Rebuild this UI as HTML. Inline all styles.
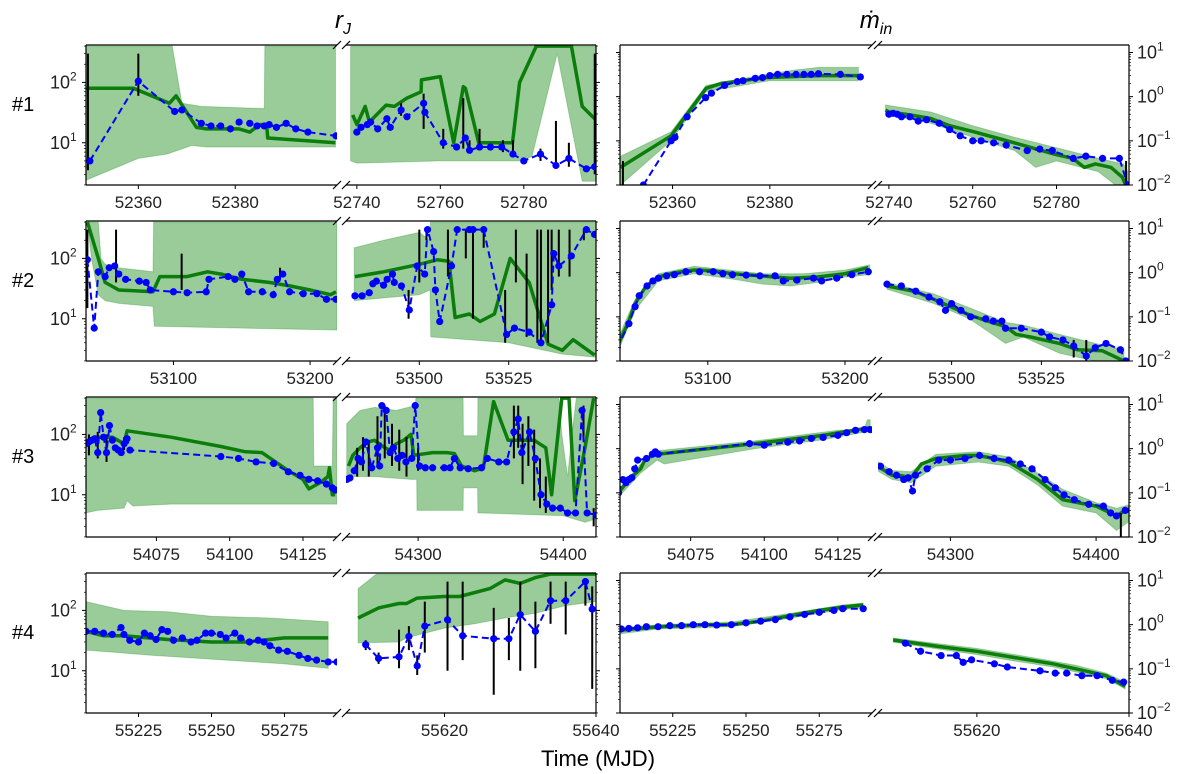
<!DOCTYPE html>
<html><head><meta charset="utf-8"><style>
html,body{margin:0;padding:0;background:#fff}
svg{display:block;font-family:"Liberation Sans","DejaVu Sans",sans-serif}
</style></head><body>
<svg id="chart" width="1200" height="774" viewBox="0 0 1200 774" xmlns="http://www.w3.org/2000/svg">
<text x="343" y="28" font-size="24" font-style="italic" text-anchor="middle">r<tspan font-size="16" dy="6">J</tspan></text>
<text x="876" y="28" font-size="24" font-style="italic" text-anchor="middle">ṁ<tspan font-size="16" dy="6">in</tspan></text>
<text x="598" y="766" font-size="22" text-anchor="middle">Time (MJD)</text>
<g id="plots"></g>
</svg>
<script>
// ---- row 1 r_J ----
const rj1L_green=[[52349.2,80],[52359,80],[52366.4,45],[52367.8,60],[52372,18],[52374,17],[52380.8,17],[52383,15],[52385,20],[52386.5,20],[52386.7,12],[52390,11.5],[52400.7,10]];
const rj1L_hi=[[52349.2,400],[52367,400],[52369,45],[52373,40],[52386,37],[52386.1,400],[52400.7,400]];
const rj1L_lo=[[52349.2,2.4],[52360,5.5],[52366,6.5],[52371,9],[52374,8.5],[52400.7,8.5]];
const rj1L_blue=[[52350,5],[52360,105],[52367.5,33],[52369,35],[52373,21],[52375,19],[52377,19],[52379,17],[52380.8,22],[52383,21],[52384.5,19],[52386,19],[52387,20],[52388.5,18],[52390.5,21],[52392.5,17],[52395,15],[52400.8,13]];
const rj1L_err=[[52349.6,3.5,300],[52360,60,300]];
const rj1R_green=[[52739,29],[52740,20],[52742,40],[52743,22],[52747,42],[52749,40],[52752,55],[52755.4,70],[52755.5,110],[52760,125],[52763.2,10],[52765.5,85],[52766,80],[52769.2,10],[52777.3,10],[52779,100],[52783,400],[52791.4,400],[52794,40],[52797,25]];
const rj1R_hi=[[52738.5,400],[52797.3,400]];
const rj1R_lo=[[52738.5,5],[52740,4.6],[52760,5],[52780,5],[52782,6],[52788,300],[52794,2.3],[52797.3,2.3]];
const rj1R_blue=[[52740,15],[52741,18],[52742.5,20],[52743.3,22],[52745,17],[52747.2,25],[52748,18],[52750.6,35],[52752,27],[52756,45],[52756.3,32],[52760.7,10],[52763.9,8.5],[52766,12],[52767,7.5],[52769.4,8.5],[52772,8.5],[52774.7,8.5],[52777.4,6.5],[52780,5],[52784,6.5],[52787.7,4.2],[52790.8,5.5],[52795,3.7],[52797,4]];
const rj1R_err=[[52756,17,65],[52750.6,28,45],[52760.7,8,17],[52765.5,8,55],[52767,7,11],[52769.4,8,17],[52775,7,11],[52777.4,6,11],[52784,5,8],[52787.7,4,23],[52790.8,4,10],[52797,3,300]];
// ---- row 2 r_J ----
const rj2L_green=[[53037,400],[53045,100],[53050,40],[53060,30],[53085,28],[53090,50],[53110,50],[53125,60],[53135,55],[53150,45],[53170,40],[53185,35],[53200,30],[53215,25],[53219,28]];
const rj2L_hi=[[53037,400],[53045,400],[53047,100],[53050,80],[53060,70],[53085,60],[53085.5,400],[53219.7,400]];
const rj2L_lo=[[53037,400],[53040,100],[53045,25],[53050,20],[53060,18],[53085,16],[53086,7.5],[53219.7,6.5]];
const rj2L_blue=[[53037,95],[53042,7],[53045,60],[53050,50],[53053,70],[53057,75],[53060,55],[53065,45],[53075,42],[53080,40],[53083,30],[53100,28],[53110,27],[53124,28],[53126,45],[53140,50],[53145,45],[53150,55],[53155,28],[53165,28],[53173,25],[53176,45],[53180,55],[53185,28],[53195,26],[53205,26],[53212,21],[53219,21]];
const rj2L_err=[[53037,15,300],[53058,40,300],[53106,30,120],[53178,45,70]];
const rj2R_green=[[53482,50],[53490,60],[53500,80],[53505,95],[53508.3,90],[53510,10.5],[53514,12],[53517,9],[53521,12],[53525.4,100],[53530.7,40],[53536,3.8],[53540,3],[53543,4.5],[53549,2.5]];
const rj2R_hi=[[53481.8,150],[53490,200],[53500,270],[53503,200],[53503.1,400],[53549.4,400]];
const rj2R_lo=[[53481.8,20],[53500,25],[53503,30],[53503.2,5],[53525,4],[53540,2.6],[53549.4,2.3]];
const rj2R_blue=[[53482,24],[53484,24],[53486,27],[53487,38],[53488,42],[53490,36],[53491,45],[53492.5,55],[53493,40],[53495,35],[53497.2,14],[53499.4,75],[53501.5,55],[53502.3,300],[53504,130],[53504.5,30],[53505.7,9],[53509,75],[53510.6,300],[53514,300],[53515,300],[53518,300],[53524.4,5.5],[53526.6,7],[53530.7,6],[53534,4],[53537,17],[53537.6,120],[53539,75],[53542.5,110],[53546.7,300],[53549,250]];
const rj2R_err=[[53497,10,30],[53500,40,300],[53502,200,300],[53508,50,300],[53513,100,300],[53515,10,300],[53518,150,300],[53524,4,30],[53527,40,300],[53530,5,120],[53533,4,300],[53534,4,300],[53536,4,300],[53537,30,300],[53539,50,300],[53542,50,300],[53546,200,300]];
// ---- row 3 r_J ----
const rj3L_green=[[54051,75],[54055,90],[54060,90],[54064,70],[54065,115],[54080,90],[54097,63],[54105,52],[54111,50],[54120,25],[54125,18],[54127,12.5],[54131,16],[54133.5,20],[54134,28],[54135,10],[54136,10]];
const rj3L_hi=[[54051,400],[54128.5,400],[54128.7,30],[54135,30],[54135.3,400],[54136.6,400]];
const rj3L_lo=[[54051,5],[54055,5.5],[54064,6],[54065,8],[54067,6.5],[54080,7],[54136.6,7]];
const rj3L_blue=[[54051,70],[54052,75],[54053,80],[54054,85],[54055,50],[54056,230],[54057,90],[54058,50],[54059,140],[54060,80],[54061,60],[54062,55],[54063,50],[54064,70],[54065,85],[54066,55],[54097,43],[54103,40],[54109,35],[54115,33],[54120,24],[54124,21],[54127,18],[54130,17],[54133,15],[54135,13],[54136,12]];
const rj3L_err=[[54052,45,100],[54055,40,110],[54058,35,100],[54064,55,90]];
const rj3R_green=[[54252,30],[54255,45],[54260,60],[54265,75],[54270,80],[54275,65],[54280,55],[54285,70],[54290,80],[54295,100],[54297,45],[54310,50],[54320,50],[54325,48],[54330,30],[54339,25],[54345,28],[54352,350],[54362,80],[54380,80],[54388,60],[54392,10],[54399,400],[54404,400],[54408,8],[54415,60],[54421,400]];
const rj3R_hi=[[54250.8,150],[54260,250],[54270,280],[54285,250],[54298,300],[54298.5,400],[54331,400],[54331.2,95],[54341,95],[54341.2,400],[54397,400],[54399,100],[54403,20],[54406,100],[54409,400],[54422.6,400]];
const rj3R_lo=[[54250.8,20],[54270,20],[54295,18],[54299,18],[54299.2,5.5],[54331,5.5],[54331.2,13],[54341,13],[54341.2,5],[54400,4.5],[54415,3.5],[54422.6,4]];
const rj3R_blue=[[54251,18],[54253,19],[54256,25],[54258.6,40],[54261,35],[54264,75],[54268,28],[54272,60],[54273.5,30],[54275,300],[54278,250],[54280.7,50],[54283,60],[54286,40],[54289,45],[54291.6,35],[54295.6,40],[54298,300],[54301,30],[54305,28],[54310,28],[54318,28],[54322,28],[54325,40],[54329,28],[54334.5,27],[54343.7,28],[54347.7,40],[54355.6,35],[54361,35],[54366,110],[54369,180],[54371.5,50],[54376.8,110],[54380.8,40],[54384.7,10],[54388.7,7],[54392.7,6],[54398,6],[54403,5],[54408.5,5],[54413,250],[54416.5,5],[54423,4.6]];
const rj3R_err=[[54258,20,60],[54262,25,90],[54266,20,80],[54272,30,200],[54277,40,300],[54282,30,150],[54287,25,120],[54292,20,90],[54300,25,60],[54366,40,300],[54369,60,300],[54372,15,150],[54376,30,200],[54380,8,120],[54384,6,40],[54388,5,20],[54414,80,300],[54421,3,6]];
// ---- row 4 r_J ----
const rj4L_green=[[55207,45],[55213,38],[55220,38],[55235,33],[55250,30],[55262,30],[55275,35],[55285,35],[55290,35]];
const rj4L_hi=[[55207,140],[55220,100],[55235,95],[55250,80],[55270,75],[55290,65]];
const rj4L_lo=[[55207,22],[55230,18],[55255,15],[55275,13],[55290,11]];
const rj4L_blue=[[55207,45],[55210,45],[55213,42],[55216,40],[55219,52],[55220,40],[55222,32],[55225,30],[55227,42],[55229,38],[55231,33],[55233,48],[55235,45],[55237,32],[55240,35],[55243,30],[55245,32],[55248,42],[55250,42],[55253,40],[55255,35],[55258,42],[55260,35],[55263,30],[55266,32],[55268,30],[55270,26],[55273,22],[55276,21],[55280,18],[55283,16],[55286,15],[55290,14],[55293,14]];
const rj4L_err=[];
const rj4R_green=[[55608.6,75],[55611.3,110],[55614,130],[55615,130],[55616.4,160],[55620,170],[55622,170],[55626,230],[55628,320],[55630,280],[55632,350],[55634,400],[55640,400]];
const rj4R_hi=[[55608.6,230],[55611,400],[55640,400]];
const rj4R_lo=[[55608.6,29],[55614,30],[55615,35],[55620,51],[55624,60],[55628,75],[55632,90],[55636,120],[55640,140]];
const rj4R_blue=[[55609.6,27],[55611.3,16],[55614,17],[55615.3,37],[55616.4,12],[55617.4,55],[55620.4,70],[55622.4,38],[55626.5,34],[55628.5,34],[55630,85],[55632,45],[55634,145],[55636,145],[55638.6,300],[55639.5,105]];
const rj4R_err=[[55609.6,22,32],[55611.3,13,20],[55614,11,48],[55615.3,22,55],[55616.4,8.5,18],[55617.4,20,140],[55620.4,10,300],[55622.4,15,300],[55626.5,4,110],[55628.5,15,75],[55630,10,300],[55632,11,140],[55634,60,300],[55636,40,300],[55638.6,120,300],[55639.5,5,250]];
// ---- row 1 mdot ----
const mi1L_green=[[52349.3,0.025],[52359.7,0.13],[52366.9,1.55],[52370,2.0],[52379.3,2.7],[52390,3.0],[52398.2,3.0]];
const mi1L_hi=[[52349.3,0.045],[52359.7,0.16],[52366.9,1.8],[52380,3.3],[52385,4.0],[52390,4.6],[52398.2,4.6]];
const mi1L_lo=[[52349.3,0.01],[52359.7,0.1],[52366.9,1.3],[52380,2.3],[52390,2.3],[52398.2,2.3]];
const mi1L_blue=[[52354,0.01],[52359.7,0.1],[52360.5,0.12],[52363,0.35],[52366.8,0.95],[52368,1.2],[52370.7,1.8],[52373.3,2.2],[52374.5,2.3],[52377,2.6],[52378.5,2.7],[52380,3.0],[52381.6,3.2],[52383.5,3.2],[52385.4,3.2],[52387,3.2],[52388.5,3.2],[52390,3.3],[52394.5,3.2],[52398.6,2.8]];
const mi1L_err=[[52349.8,0.01,0.035]];
const mi1R_green=[[52739.2,0.5],[52740,0.45],[52744,0.4],[52750,0.32],[52754.5,0.22],[52760.3,0.16],[52766.6,0.11],[52773,0.075],[52779.4,0.05],[52783.9,0.04],[52786.6,0.025],[52789.3,0.03],[52793,0.025],[52795.7,0.015],[52797,0.008]];
const mi1R_hi=[[52739.2,0.65],[52750,0.45],[52760,0.22],[52770,0.12],[52780,0.07],[52790,0.04],[52796,0.03],[52797,0.02]];
const mi1R_lo=[[52739.2,0.4],[52750,0.25],[52760,0.12],[52770,0.06],[52775,0.025],[52780,0.035],[52790,0.02],[52797,0.006]];
const mi1R_blue=[[52740,0.4],[52741,0.42],[52742,0.4],[52743,0.35],[52745,0.35],[52747,0.28],[52749,0.3],[52752,0.25],[52754.5,0.18],[52757,0.13],[52760,0.1],[52762,0.1],[52765,0.09],[52768,0.08],[52773,0.06],[52776,0.065],[52779,0.06],[52784,0.04],[52787,0.045],[52791,0.04],[52795,0.04],[52797,0.01]];
const mi1R_err=[[52796.6,0.01,0.035]];
// ---- row 2 mdot ----
const mi2L_green=[[53034,0.022],[53042.5,0.08],[53047,0.2],[53055,0.5],[53064,0.8],[53076,1.0],[53090,1.15],[53104,1.1],[53118,0.95],[53138,0.85],[53160,0.75],[53180,0.8],[53200,0.95],[53217,1.3]];
const mi2L_hi=[[53034,0.03],[53047,0.25],[53064,0.95],[53090,1.4],[53110,1.2],[53140,0.95],[53170,0.95],[53200,1.15],[53218,1.5]];
const mi2L_lo=[[53034,0.015],[53047,0.14],[53064,0.65],[53090,0.95],[53120,0.7],[53140,0.55],[53160,0.5],[53180,0.6],[53200,0.8],[53218,0.9]];
const mi2L_blue=[[53034,0.02],[53042.5,0.07],[53047,0.17],[53050,0.3],[53055.7,0.5],[53060,0.65],[53064,0.75],[53070,0.85],[53075.6,0.9],[53084,1.05],[53094,1.05],[53104,1.05],[53111,0.95],[53118,0.9],[53128,0.88],[53138,0.85],[53149,0.85],[53155,0.65],[53165,0.68],[53177,0.75],[53183,0.65],[53194,0.75],[53205,0.9],[53217,1.05]];
const mi2L_err=[];
const mi2R_green=[[53482,0.5],[53490,0.37],[53495,0.25],[53505,0.11],[53510,0.08],[53515,0.06],[53518,0.04],[53522,0.035],[53530,0.025],[53535,0.018],[53542,0.017],[53548,0.01]];
const mi2R_hi=[[53482,0.6],[53495,0.33],[53505,0.16],[53515,0.075],[53520,0.065],[53530,0.04],[53540,0.025],[53548,0.018]];
const mi2R_lo=[[53482,0.42],[53495,0.2],[53505,0.09],[53515,0.025],[53520,0.035],[53530,0.015],[53540,0.01],[53548,0.007]];
const mi2R_blue=[[53482,0.55],[53486,0.5],[53490,0.38],[53493.7,0.28],[53496.7,0.22],[53498.3,0.14],[53500,0.2],[53502.6,0.14],[53505.3,0.1],[53509.5,0.09],[53511.6,0.08],[53514,0.08],[53515,0.055],[53519.4,0.055],[53525,0.045],[53527.3,0.035],[53531,0.03],[53534,0.022],[53537.5,0.013],[53540,0.02],[53543,0.025],[53547,0.018],[53548.5,0.01]];
const mi2R_err=[[53534,0.012,0.03],[53537.5,0.008,0.03]];
// ---- row 3 mdot ----
const mi3L_green=[[54050.5,0.1],[54054,0.2],[54058,0.35],[54059.7,0.6],[54063.6,0.75],[54096.7,1.3],[54120,2.0],[54136,3.0]];
const mi3L_hi=[[54050.5,0.12],[54058,0.45],[54063.6,0.9],[54096.7,1.5],[54125,2.6],[54134,2.8],[54135,4.5],[54136,4.5]];
const mi3L_lo=[[54050.5,0.08],[54058,0.28],[54063.6,0.55],[54066,0.45],[54096.7,1.0],[54120,1.6],[54136,2.5]];
const mi3L_blue=[[54050.5,0.1],[54052,0.2],[54053,0.17],[54054,0.2],[54055,0.22],[54056,0.35],[54057,0.55],[54060,0.6],[54062,0.75],[54063,0.85],[54064,0.75],[54095,1.3],[54100,1.2],[54108,1.4],[54112,1.5],[54116,1.7],[54120,1.8],[54125,2.0],[54128,2.3],[54131,2.6],[54134,2.7],[54136,2.7]];
const mi3L_err=[];
const mi3R_green=[[54242,0.6],[54250,0.4],[54260,0.25],[54265,0.25],[54273,0.22],[54280,0.45],[54290,0.6],[54310,0.7],[54319,0.7],[54330,0.6],[54340,0.5],[54360,0.2],[54377,0.07],[54400,0.05],[54414,0.03],[54420,0.04],[54428,0.045]];
const mi3R_hi=[[54242,0.75],[54260,0.32],[54273,0.3],[54290,0.75],[54319,0.85],[54340,0.65],[54360,0.28],[54377,0.12],[54400,0.06],[54414,0.045],[54428,0.06]];
const mi3R_lo=[[54242,0.45],[54260,0.2],[54273,0.17],[54290,0.4],[54319,0.5],[54340,0.4],[54360,0.15],[54377,0.05],[54400,0.035],[54414,0.014],[54428,0.03]];
const mi3R_blue=[[54242,0.5],[54246,0.5],[54252,0.4],[54258,0.3],[54263,0.25],[54268,0.2],[54271,0.22],[54274,0.11],[54276,0.25],[54284,0.35],[54292,0.55],[54300,0.55],[54310,0.6],[54320,0.7],[54330,0.6],[54340,0.55],[54348,0.45],[54356,0.35],[54365,0.2],[54372,0.13],[54378,0.09],[54385,0.07],[54395,0.055],[54405,0.05],[54410,0.035],[54414,0.03],[54420,0.04],[54428,0.055]];
const mi3R_err=[[54417,0.01,0.035]];
// ---- row 4 mdot ----
const mi4L_green=[[55207.4,0.75],[55220,0.9],[55235,1.0],[55245,1.0],[55255,1.2],[55265,1.6],[55275,2.1],[55283,2.5],[55290,2.8]];
const mi4L_hi=[[55207.4,0.85],[55220,1.0],[55245,1.15],[55265,1.8],[55283,2.8],[55290,3.1]];
const mi4L_lo=[[55207.4,0.62],[55220,0.8],[55245,0.9],[55265,1.4],[55283,2.2],[55290,2.4]];
const mi4L_blue=[[55207.4,0.8],[55210,0.82],[55213,0.85],[55216,0.9],[55220,0.9],[55224,0.95],[55228,0.95],[55232,1.0],[55236,1.0],[55240,0.98],[55245,1.0],[55250,1.1],[55255,1.2],[55260,1.3],[55265,1.5],[55270,1.7],[55275,1.9],[55280,2.1],[55283,2.3],[55290,2.3]];
const mi4L_err=[];
const mi4R_green=[[55609,0.45],[55615,0.32],[55620,0.25],[55625,0.18],[55630,0.13],[55633,0.1],[55637,0.07],[55639.5,0.04]];
const mi4R_hi=[[55609,0.5],[55615,0.37],[55620,0.29],[55625,0.21],[55630,0.15],[55633,0.12],[55637,0.08],[55639.5,0.05]];
const mi4R_lo=[[55609,0.4],[55615,0.28],[55620,0.21],[55625,0.15],[55630,0.11],[55633,0.085],[55637,0.06],[55639.5,0.035]];
const mi4R_blue=[[55610.6,0.38],[55612.6,0.25],[55615.3,0.2],[55617.3,0.2],[55618.2,0.14],[55619.3,0.16],[55622.3,0.13],[55624,0.11],[55628.3,0.09],[55630.3,0.08],[55631.8,0.08],[55633.8,0.07],[55635.8,0.07],[55637.8,0.055],[55639.3,0.05]];
const mi4R_err=[];
// ---- axes config ----
const rowLabels=["#1","#2","#3","#4"];
const xDomains=[[[52349.2,52401],[52737.4,52797.3]],[[53036,53219.7],[53479.5,53549.4]],[[54051,54136.6],[54250.3,54422.6]],[[55207,55293],[55607,55640]]];
const xTicks=[[[52360,52380],[52740,52760,52780]],[[53100,53200],[53500,53525]],[[54075,54100,54125],[54300,54400]],[[55225,55250,55275],[55620,55640]]];
const rjYTicks=[1,2];
const miYTicks=[1,0,-1,-2];

const NS="http://www.w3.org/2000/svg";
const root=document.getElementById('plots');
const ROWTOP=[45,221,397,573], H=140;
const COLX=[[[86,337],[346,596]],[[620,872],[878,1129]]];
const YLOG=[[0.3,2.62],[-2,1.17]];
function mk(tag,attrs,parent){const e=document.createElementNS(NS,tag);for(const k in attrs)e.setAttribute(k,attrs[k]);(parent||root).appendChild(e);return e;}
const dataSets={rj:[[ [rj1L_green,rj1L_hi,rj1L_lo,rj1L_blue,rj1L_err],[rj1R_green,rj1R_hi,rj1R_lo,rj1R_blue,rj1R_err] ],[ [rj2L_green,rj2L_hi,rj2L_lo,rj2L_blue,rj2L_err],[rj2R_green,rj2R_hi,rj2R_lo,rj2R_blue,rj2R_err] ],[ [rj3L_green,rj3L_hi,rj3L_lo,rj3L_blue,rj3L_err],[rj3R_green,rj3R_hi,rj3R_lo,rj3R_blue,rj3R_err] ],[ [rj4L_green,rj4L_hi,rj4L_lo,rj4L_blue,rj4L_err],[rj4R_green,rj4R_hi,rj4R_lo,rj4R_blue,rj4R_err] ]],
mi:[[ [mi1L_green,mi1L_hi,mi1L_lo,mi1L_blue,mi1L_err],[mi1R_green,mi1R_hi,mi1R_lo,mi1R_blue,mi1R_err] ],[ [mi2L_green,mi2L_hi,mi2L_lo,mi2L_blue,mi2L_err],[mi2R_green,mi2R_hi,mi2R_lo,mi2R_blue,mi2R_err] ],[ [mi3L_green,mi3L_hi,mi3L_lo,mi3L_blue,mi3L_err],[mi3R_green,mi3R_hi,mi3R_lo,mi3R_blue,mi3R_err] ],[ [mi4L_green,mi4L_hi,mi4L_lo,mi4L_blue,mi4L_err],[mi4R_green,mi4R_hi,mi4R_lo,mi4R_blue,mi4R_err] ]]};
let clipId=0;
for(let r=0;r<4;r++){
  const top=ROWTOP[r], bot=top+H;
  const lab=mk('text',{x:12,y:top+66,'font-size':20});
  
  
  lab.textContent=rowLabels[r];
  for(let c=0;c<2;c++){
    const key=c===0?'rj':'mi';
    const [l0,l1]=YLOG[c];
    const yOf=v=>bot-(Math.log10(v)-l0)/(l1-l0)*H;
    const g=mk('g',{});
    
    
    for(let s=0;s<2;s++){
      const [x0,x1]=COLX[c][s]; const [t0,t1]=xDomains[r][s];
      const xOf=t=>x0+(t-t0)/(t1-t0)*(x1-x0);
      const id='cp'+(clipId++);
      const cp=mk('clipPath',{id:id},g); mk('rect',{x:x0,y:top,width:x1-x0,height:H},cp);
      const pg=mk('g',{'clip-path':'url(#'+id+')'},g);
      
      
      const [green,hi,lo,blue,err]=dataSets[key][r][s];
      const cl=v=>Math.min(Math.max(yOf(v),top-50),bot+50);
      let pts=hi.map(p=>xOf(p[0]).toFixed(1)+','+cl(p[1]).toFixed(1));
      pts=pts.concat(lo.slice().reverse().map(p=>xOf(p[0]).toFixed(1)+','+cl(p[1]).toFixed(1)));
      const band=mk('polygon',{points:pts.join(' '),fill:'#008000','fill-opacity':0.4,stroke:'#008000','stroke-opacity':0.25,'stroke-width':1},pg);
      
      
      const gl=mk('polyline',{points:green.map(p=>xOf(p[0]).toFixed(1)+','+cl(p[1]).toFixed(1)).join(' '),fill:'none',stroke:'#0a7d0a','stroke-width':3.5,'stroke-linejoin':'round'},pg);
      
      
      err.forEach(e=>{const ln=mk('line',{x1:xOf(e[0]),x2:xOf(e[0]),y1:cl(e[1]),y2:cl(e[2]),stroke:'#000','stroke-width':2},pg);
        
        });
      const bl=mk('polyline',{points:blue.map(p=>xOf(p[0]).toFixed(1)+','+cl(p[1]).toFixed(1)).join(' '),fill:'none',stroke:'#0000ff','stroke-width':2,'stroke-dasharray':'7,4'},pg);
      
      
      blue.forEach(p=>{const d=mk('circle',{cx:xOf(p[0]),cy:yOf(p[1]),r:3.6,fill:'#0000ff'},pg);
        
        });
      mk('line',{x1:x0,x2:x1,y1:top,y2:top,stroke:'#000','stroke-width':1.2},g);
      mk('line',{x1:x0,x2:x1,y1:bot,y2:bot,stroke:'#000','stroke-width':1.2},g);
      const sx=s===0?x0:x1;
      mk('line',{x1:sx,x2:sx,y1:top,y2:bot,stroke:'#000','stroke-width':1.2},g);
      const bx=s===0?x1:x0;
      [top,bot].forEach(yy=>mk('line',{x1:bx-4,y1:yy+4,x2:bx+4,y2:yy-4,stroke:'#000','stroke-width':1.2},g));
      const dir=s===0?-1:1;
      for(let d=Math.floor(l0);d<=Math.ceil(l1);d++){for(let m=1;m<10;m++){const lv=d+Math.log10(m);if(lv<l0||lv>l1)continue;const yy=bot-(lv-l0)/(l1-l0)*H;
        mk('line',{x1:sx,x2:sx+dir*(m===1?4:2),y1:yy,y2:yy,stroke:'#000','stroke-width':m===1?1:0.7},g);}}
      xTicks[r][s].forEach(tv=>{const xx=xOf(tv);mk('line',{x1:xx,x2:xx,y1:bot,y2:bot+4,stroke:'#000','stroke-width':1},g);
        const tl=mk('text',{x:xx,y:bot+23,'font-size':17,'text-anchor':'middle',fill:'#222'},g);
        
        
        tl.textContent=tv;});
    }
    if(c===0){rjYTicks.forEach(e=>{const yy=bot-(e-l0)/(l1-l0)*H;
      const t=mk('text',{x:50,y:yy+6,'font-size':18,fill:'#222'},g);
      
      
      t.innerHTML='10<tspan font-size="12" dy="-8">'+e+'</tspan>';});}
    else{miYTicks.forEach(e=>{const yy=bot-(e-l0)/(l1-l0)*H;
      const t=mk('text',{x:1137,y:yy+6,'font-size':18,fill:'#222'},g);
      
      
      t.innerHTML='10<tspan font-size="12" dy="-8">'+(e<0?'−'+(-e):e)+'</tspan>';});}
  }
}
</script>
</body></html>
